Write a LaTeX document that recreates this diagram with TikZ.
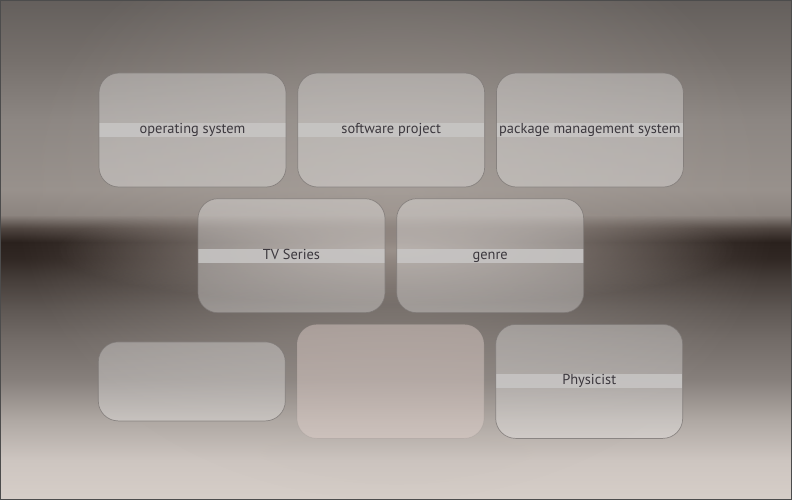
\documentclass[tikz,border=0pt]{standalone}
\usepackage{fontspec}
\setmainfont{PT Sans}
\usetikzlibrary{positioning,fadings}

% wall colours, top to bottom
\definecolor{wallA}{RGB}{100,95,92}
\definecolor{wallB}{RGB}{118,112,108}
\definecolor{wallC}{RGB}{140,134,130}
\definecolor{wallD}{RGB}{152,145,140}
\definecolor{wallE}{RGB}{140,132,127}
\definecolor{wallF}{RGB}{80,70,65}
\definecolor{wallG}{RGB}{42,33,29}
\definecolor{wallH}{RGB}{48,39,35}
\definecolor{wallI}{RGB}{70,62,58}
\definecolor{wallJ}{RGB}{95,88,84}
\definecolor{wallK}{RGB}{115,108,104}
\definecolor{wallL}{RGB}{135,128,124}
\definecolor{wallM}{RGB}{175,168,163}
\definecolor{wallN}{RGB}{205,197,192}
\definecolor{wallO}{RGB}{214,206,200}
\definecolor{glow}{RGB}{178,170,164}
\definecolor{bandglow}{RGB}{160,150,144}
\definecolor{cardline}{RGB}{125,120,118}
\definecolor{bandgrey}{RGB}{200,198,197}
\definecolor{labelgrey}{RGB}{60,56,62}
\definecolor{pinkish}{RGB}{226,210,205}

% the picture spans 25bp..75bp of the shading
\pgfdeclareverticalshading{wall}{100bp}{color(0bp)=(wallO); color(25bp)=(wallO); color(29bp)=(wallN);
  color(33bp)=(wallM); color(37bp)=(wallL); color(41bp)=(wallK); color(44bp)=(wallJ);
  color(47bp)=(wallI); color(49.2bp)=(wallH); color(50.8bp)=(wallG); color(52.2bp)=(wallF);
  color(53.5bp)=(wallE); color(56bp)=(wallD); color(63bp)=(wallC); color(69bp)=(wallB);
  color(75bp)=(wallA); color(100bp)=(wallA)}
\tikzfading[name=soft, inner color=transparent!0, outer color=transparent!100]

\begin{document}
\begin{tikzpicture}[x=1pt, y=-1pt]
    \tikzset{ card/.style={rectangle, draw=cardline, draw opacity=0.8, line width=0.7pt,
                    rounded corners=20pt, fill=white, fill opacity=0.3, text opacity=1,
                    minimum width=187pt, minimum height=114pt, inner sep=0pt,
                    text=labelgrey, font=\fontsize{14.4}{16}\selectfont,
                    text height=10pt, text depth=3pt,
                    path picture={\fill[bandgrey, fill opacity=0.85, sharp corners]
                        ([yshift=-7pt]path picture bounding box.west) rectangle
                        ([yshift=7pt]path picture bounding box.east);}},
            blankcard/.style={rectangle, draw=cardline, draw opacity=0.8, line width=0.7pt,
                    rounded corners=20pt, fill=white, fill opacity=0.3,
                    minimum width=187pt, minimum height=114pt, inner sep=0pt}}
    \useasboundingbox (0,0) rectangle (792,500);

    % background
    \begin{scope}
        \clip (0,0) rectangle (792,500);
        \shade[shading=wall] (0,0) rectangle (792,500);
        \fill[glow, path fading=soft, fill opacity=0.5] (396,200) ellipse [x radius=380pt, y radius=300pt];
        \fill[bandglow, path fading=soft, fill opacity=0.9] (396,250) ellipse [x radius=340pt, y radius=55pt];
    \end{scope}

    % top row
    \node[card] (os) at (192.5,130) {operating system};
    \node[card, right=11pt of os] (swp) {software project};
    \node[card, right=11pt of swp] (pms) {package management system};

    % middle row
    \node[card, below=11pt of os, xshift=99pt] (tv) {TV Series};
    \node[card, right=11pt of tv] (genre) {genre};

    % bottom row
    \node[card, below=11pt of genre, xshift=99pt] (phys) {Physicist};
    \node[blankcard, left=11pt of phys, draw opacity=0.15, fill=pinkish, fill opacity=0.45] (empty) {};
    \node[blankcard, left=11pt of empty, minimum height=79pt] (low) {};

    \draw[black!70, line width=1pt] (0.5,0.5) rectangle (791.5,499.5);
\end{tikzpicture}
\end{document}
